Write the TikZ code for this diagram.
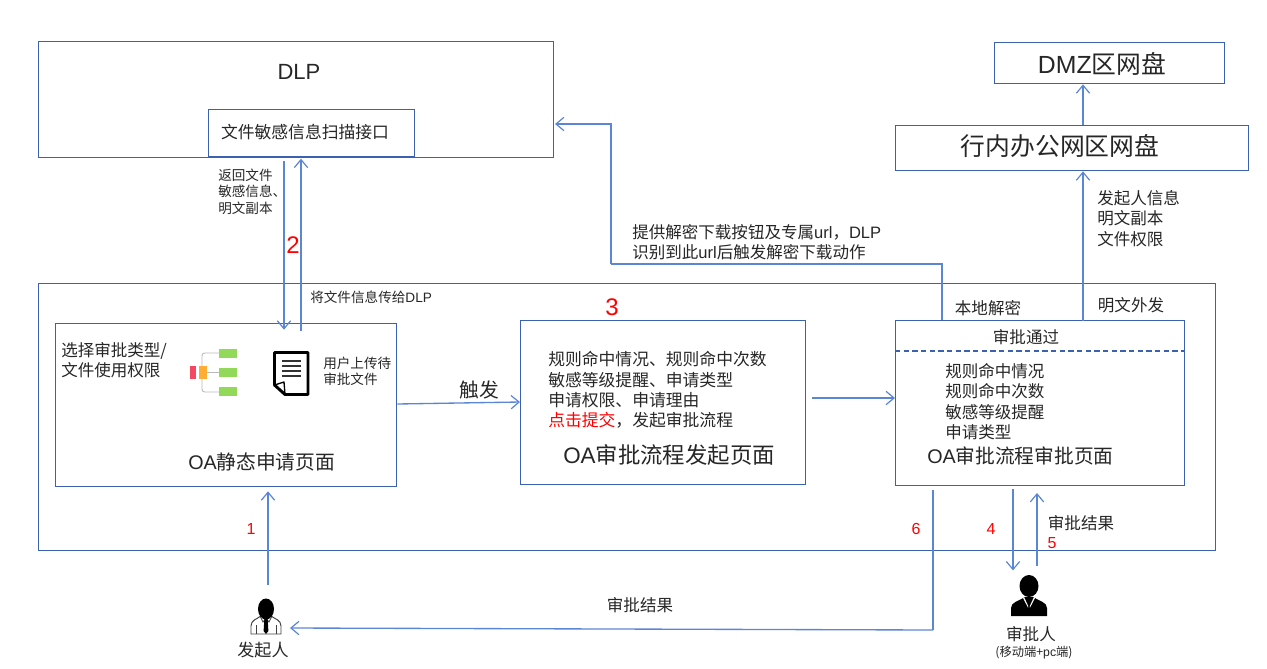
\documentclass[tikz,border=0pt]{standalone}
\usepackage{fontspec}
\setmainfont{Noto Sans CJK SC}
\newfontfamily\latinface{Liberation Sans}
\usetikzlibrary{arrows.meta, positioning, calc}
\definecolor{BoxBlue}{HTML}{3A62B0}
\definecolor{LineBlue}{HTML}{5B85D5}
\definecolor{MapGreen}{HTML}{92D95A}
\definecolor{MapOrange}{HTML}{FFAE33}
\definecolor{MapRed}{HTML}{F5475F}
\newcommand{\la}[1]{{\latinface #1}}

\begin{document}
\begin{tikzpicture}[
    x=0.75pt, y=-0.75pt,
    % Cajas
    mainbox/.style={
            rectangle,
            draw=BoxBlue,
            line width=1pt,
            anchor=north west,
            inner sep=0pt
        },
    % Textos
    note/.style={
            anchor=west,
            align=left,
            inner sep=0pt,
            text=black!85,
            font=\fontsize{12.4}{15.2}\selectfont
        },
    smallnote/.style={
            note,
            font=\fontsize{10.2}{12.3}\selectfont
        },
    title/.style={
            note,
            font=\fontsize{14.8}{18}\selectfont
        },
    bigtitle/.style={
            note,
            font=\fontsize{18.6}{22}\selectfont
        },
    mark/.style={
            inner sep=0pt,
            text=red,
            font=\latinface\fontsize{#1}{#1}\selectfont
        },
    mark/.default=12,
    iconspot/.style={
            rectangle,
            inner sep=0pt,
            minimum width=30pt,
            minimum height=30pt
        },
    % Flechas
    arrow/.style={
    -{Straight Barb[length=6pt,width=10pt,line width=0.9pt]},
    line width=1pt,
    color=LineBlue
    },
    link/.style={
    line width=1pt,
    color=LineBlue
    },
    % Iconos
    mapicon/.pic={
        \draw[gray!55, line width=0.7pt, rounded corners=2pt] (219,353) -- (202,353) -- (202,392) -- (219,392);
        \draw[gray!55, line width=0.7pt] (207,372.5) -- (219,372.5);
        \fill[MapRed] (190,366) rectangle (196,379);
        \fill[MapOrange] (199,366) rectangle (207,379);
        \fill[MapGreen] (219,349) rectangle (237,358);
        \fill[MapGreen] (219,368) rectangle (237,377);
        \fill[MapGreen] (219,387) rectangle (237,396);
    },
    docicon/.pic={
        \draw[black, line width=2.2pt, line join=round] (274.5,352.5) -- (308,352.5) -- (308,394.5) -- (285,394.5) -- (274.5,385) -- cycle;
        \draw[black, line width=1pt, line join=round] (274.5,385) -- (284,382) -- (285,394.5);
        \foreach \ly in {361,366,371,376}
            \draw[black!80, line width=1pt] (282,\ly) -- (301,\ly);
    },
    starterfigure/.pic={
        % cuerpo
        \draw[black!75, fill=white, line width=0.7pt] (-15,18) -- (-15,10) .. controls (-15,4) and (-9,3) .. (-5,0) -- (5,0) .. controls (9,3) and (15,4) .. (15,10) -- (15,18) -- cycle;
        \draw[black!75, line width=0.6pt] (-10,9) -- (-10,18) (10,9) -- (10,18);
        \draw[black!75, line width=0.6pt] (-6,0) -- (-3,6) -- (0,2) -- (3,6) -- (6,0);
        \fill[black] (-1.6,2) -- (1.6,2) -- (2.4,15) -- (0,18) -- (-2.4,15) -- cycle;
        % cabeza
        \fill[black] (0,-7) ellipse (8 and 10.5);
    },
    approverfigure/.pic={
        % cuerpo
        \fill[black] (-18,10) -- (-18,2) .. controls (-18,-4) and (-10,-5) .. (-4,-9) -- (4,-9) .. controls (10,-5) and (18,-4) .. (18,2) -- (18,10) -- cycle;
        \fill[white] (-5,-9) -- (-0.8,0) -- (-0.8,2) -- (-6,-8) -- cycle;
        \fill[white] (5,-9) -- (0.8,0) -- (0.8,2) -- (6,-8) -- cycle;
        % cabeza
        \fill[black] (0,-20) ellipse (9.5 and 11);
    }
    ]

    \useasboundingbox (0,0) rectangle (1267,668);

    % ========== ZONA OA ==========
    \node[mainbox, minimum width=882.75pt, minimum height=200.25pt] (oazone) at (38,283) {};

    % ========== DLP ==========
    \node[mainbox, minimum width=386.25pt, minimum height=87pt] (dlp) at (38,41) {};
    \node[bigtitle, anchor=center, font=\latinface\fontsize{16.5}{18}\selectfont] (dlptitle) at (299,72) {DLP};
    \node[mainbox, fill=white, minimum width=154.5pt, minimum height=35.25pt] (scan) at (208,109) {};
    \node[note, anchor=center, font=\fontsize{12.6}{15}\selectfont] (scantext) at (305,132) {文件敏感信息扫描接口};

    % ========== RED ==========
    \node[mainbox, minimum width=172.5pt, minimum height=30.75pt] (dmz) at (994,42) {};
    \node[bigtitle, anchor=center] (dmztext) at (1102,64) {\la{DMZ}区网盘};
    \node[mainbox, minimum width=264.75pt, minimum height=33.75pt] (office) at (895,125) {};
    \node[bigtitle, anchor=center] (officetext) at (1060,146) {行内办公网区网盘};

    % ========== PAGINAS ==========
    \node[mainbox, minimum width=255.75pt, minimum height=122.25pt] (static) at (55,323) {};
    \node[mainbox, minimum width=213.75pt, minimum height=123pt] (launch) at (520,320) {};
    \node[mainbox, minimum width=216.75pt, minimum height=123.75pt] (approve) at (895,320) {};

    % Pagina estatica
    \node[note] (choosetext) at (61,360) {选择审批类型/\\文件使用权限};
    \pic (map) at (0,0) {mapicon};
    \pic (doc) at (0,0) {docicon};
    \node[smallnote] (uploadtext) at (323,371) {用户上传待\\审批文件};
    \node[title] (statictitle) at (188,462) {\la{OA}静态申请页面};

    % Pagina de inicio
    \node[mark=18] (mark3) at (612,307) {3};
    \node[note, font=\fontsize{12.6}{15.3}\selectfont] (launchtext) at (548,390) {规则命中情况、规则命中次数\\敏感等级提醒、申请类型\\申请权限、申请理由\\{\color{red}点击提交}，发起审批流程};
    \node[title, font=\fontsize{16.8}{20}\selectfont] (launchtitle) at (563,455) {\la{OA}审批流程发起页面};

    % Pagina de aprobacion
    \node[note, anchor=center] (passtext) at (1026,337) {审批通过};
    \coordinate (passline) at (895,351);
    \draw[BoxBlue, line width=0.9pt, dash pattern=on 4pt off 2.5pt] (passline) -- (passline -| approve.east);
    \node[note] (approvetext) at (945,401.5) {规则命中情况\\规则命中次数\\敏感等级提醒\\申请类型};
    \node[title] (approvetitle) at (927,456) {\la{OA}审批流程审批页面};

    % ========== PERSONAS ==========
    \node[iconspot] (starter) at (266,617) {};
    \pic at (266,616) {starterfigure};
    \node[note, anchor=center, font=\fontsize{12.8}{15}\selectfont] (startertext) at (263,650) {发起人};
    \node[iconspot] (approver) at (1029,596) {};
    \pic at (1029,606) {approverfigure};
    \node[note, anchor=center, font=\fontsize{12.4}{15}\selectfont] (approvertext) at (1031,634) {审批人};
    \node[note, anchor=center, font=\fontsize{9.2}{11}\selectfont] (approverdevice) at (1034,653) {(移动端+\la{pc}端)};

    % ========== FLECHAS ==========
    % Entre DLP y la pagina estatica
    \coordinate (downx) at (284,0);
    \coordinate (upx) at (301,0);
    \draw[arrow] ([yshift=-3pt]downx |- scan.south) -- ([yshift=-5pt]downx |- static.north);
    \draw[arrow] ([yshift=-6pt]upx |- static.north) -- ([yshift=-1pt]upx |- scan.south);
    \node[smallnote] (backtext) at (218,191.5) {返回文件\\敏感信息、\\明文副本};
    \node[mark=18] (mark2) at (293,245) {2};
    \node[smallnote] (sendtext) at (310,297) {将文件信息传给\la{DLP}};

    % Entre paginas
    \coordinate (launchin) at (812,398);
    \draw[arrow] (static.east |- 0,404) -- (launch.west |- 0,402);
    \node[title, anchor=center] (triggertext) at (479,390) {触发};
    \draw[arrow] (launchin) -- (launchin -| approve.west);

    % Hacia DLP
    \coordinate (decodex) at (942,0);
    \coordinate (decodebend) at (611,264);
    \draw[link] (decodex |- approve.north) -- (decodex |- decodebend) -- (decodebend);
    \draw[arrow] (decodebend) -- (decodebend |- 0,124) -- (555,124);
    \node[note] (decodenote) at (632,242) {提供解密下载按钮及专属\la{url}，\la{DLP}\\识别到此\la{url}后触发解密下载动作};
    \node[note, anchor=center] (localtext) at (988,308) {本地解密};

    % Hacia la red
    \coordinate (plainx) at (1083,0);
    \draw[arrow] ([yshift=-1pt]plainx |- approve.north) -- (plainx |- office.south);
    \draw[arrow] (plainx |- office.north) -- (plainx |- dmz.south);
    \node[note] (plainnote) at (1097,218.5) {发起人信息\\明文副本\\文件权限};
    \node[note, anchor=center] (plaintext) at (1131,305) {明文外发};

    % Personas
    \coordinate (startx) at (268,585);
    \draw[arrow] (startx) -- ([yshift=-3pt]startx |- static.south);
    \node[mark] (mark1) at (251,529) {1};
    \coordinate (resultx) at (933,630);
    \draw[link] ([yshift=-3pt]resultx |- approve.south) -- (resultx);
    \draw[arrow] (resultx) -- (290,628);
    \node[note, anchor=center] (resulttext) at (640,605) {审批结果};
    \node[mark] (mark6) at (916,529) {6};
    \coordinate (taskx) at (1013,0);
    \draw[arrow] ([yshift=-2pt]taskx |- approve.south) -- ([yshift=4pt]taskx |- approver.north);
    \node[mark] (mark4) at (991,529) {4};
    \coordinate (replyx) at (1037,0);
    \draw[arrow] ([yshift=7pt]replyx |- approver.north) -- ([yshift=-5pt]replyx |- approve.south);
    \node[note, anchor=center] (replytext) at (1081,523) {审批结果};
    \node[mark] (mark5) at (1052,543) {5};

\end{tikzpicture}
\end{document}
